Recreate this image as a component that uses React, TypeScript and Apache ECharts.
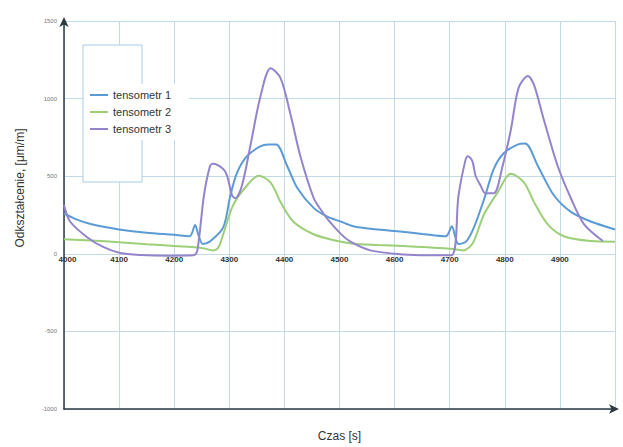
import React, { useEffect, useRef } from "react";
import * as echarts from "echarts";

const seriesNames = ["tensometr 1", "tensometr 2", "tensometr 3"];
const seriesColors = ["#5b9bd5", "#9ccf78", "#9484cc"];

const tensometr1: [number, number][] = [
  [4000, 260], [4020, 225], [4050, 190], [4100, 157], [4150, 135], [4200, 122],
  [4228, 113], [4238, 185], [4244, 120], [4252, 63], [4265, 80], [4289, 170],
  [4302, 377], [4314, 522], [4332, 629], [4356, 692], [4371, 704], [4385, 704],
  [4405, 566], [4424, 421], [4453, 296], [4478, 239], [4502, 208], [4525, 178],
  [4565, 158], [4605, 145], [4650, 128], [4693, 113], [4704, 178], [4710, 110],
  [4716, 63], [4730, 80], [4744, 170], [4763, 358], [4780, 547], [4798, 648],
  [4823, 704], [4837, 711], [4860, 566], [4889, 377], [4920, 270], [4956, 208],
  [5000, 157],
];

const tensometr2: [number, number][] = [
  [4000, 94], [4050, 85], [4100, 75], [4150, 62], [4200, 50], [4250, 38],
  [4271, 22], [4280, 40], [4289, 126], [4307, 314], [4332, 440], [4353, 503],
  [4375, 459], [4393, 333], [4416, 208], [4453, 126], [4496, 82], [4525, 65],
  [4570, 57], [4616, 50], [4660, 42], [4707, 31], [4725, 22], [4735, 40],
  [4744, 82], [4762, 252], [4787, 396], [4811, 516], [4835, 459], [4853, 333],
  [4878, 189], [4907, 113], [4956, 82], [5000, 78],
];

const tensometr3: [number, number][] = [
  [4000, 314], [4011, 208], [4042, 107], [4071, 44], [4102, 5], [4140, -8],
  [4190, -12], [4235, -10], [4242, 20], [4254, 377], [4265, 566], [4270, 580],
  [4289, 547], [4296, 503], [4305, 377], [4311, 358], [4323, 440], [4338, 692],
  [4356, 1006], [4375, 1195], [4393, 1132], [4411, 899], [4429, 629], [4453, 360],
  [4465, 290], [4478, 225], [4502, 130], [4520, 78], [4556, 22], [4616, -5],
  [4660, -10], [4703, -10], [4716, 377], [4729, 610], [4733, 629], [4741, 598],
  [4747, 503], [4756, 440], [4765, 390], [4780, 390], [4796, 566], [4811, 799],
  [4825, 1069], [4842, 1145], [4853, 1088], [4871, 862], [4896, 566], [4920, 358],
  [4944, 189], [4978, 82],
];

const seriesData = [tensometr1, tensometr2, tensometr3];

const xMin = 4000;
const xMax = 5000;
const xStep = 100;
const yMin = -1000;
const yMax = 1500;
const yStep = 500;

const xTitle = "Czas [s]";
const yTitle = "Odkształcenie, [μm/m]";

export default function App() {
  const ref = useRef<HTMLDivElement>(null);

  useEffect(() => {
    if (!ref.current) return;
    const chart = echarts.init(ref.current, undefined, { renderer: "svg" });
    const axisColor = "#2d3a42";
    const gridColor = "#c3d9e6";
    const gridTop = 21;
    const gridBottom = 29;
    const plotH = 447 - gridTop - gridBottom;
    // distance from bottom edge of the plot to the zero line
    const zeroOffset = -Math.round(((0 - yMin) / (yMax - yMin)) * plotH);
    chart.setOption({
      animation: false,
      backgroundColor: "#ffffff",
      textStyle: { fontFamily: "Liberation Sans, Arial, sans-serif" },
      grid: { left: 64, right: 8, top: gridTop, bottom: gridBottom },
      xAxis: [
        {
          type: "value",
          min: xMin,
          max: xMax,
          interval: xStep,
          position: "bottom",
          offset: zeroOffset,
          axisLine: { show: false, onZero: false },
          axisTick: { show: false },
          axisLabel: {
            fontSize: 8,
            fontWeight: "bold",
            color: "#333",
            margin: 5,
            showMaxLabel: false,
            formatter: (v: number) =>
              v === xMin ? "{first|" + v + "}" : String(v),
            rich: {
              first: {
                fontSize: 8,
                fontWeight: "bold",
                color: "#333",
                padding: [0, 0, 0, 7],
              },
            },
          },
          splitLine: { show: true, lineStyle: { color: gridColor, width: 1 } },
        },
        {
          type: "value",
          min: xMin,
          max: xMax,
          position: "bottom",
          axisLine: {
            show: true,
            onZero: false,
            symbol: ["none", "arrow"],
            symbolSize: [7, 10],
            symbolOffset: [0, 4],
            lineStyle: { color: axisColor, width: 1.5 },
          },
          axisTick: { show: false },
          axisLabel: { show: false },
          splitLine: { show: false },
          name: xTitle,
          nameLocation: "middle",
          nameGap: 21,
          nameTextStyle: { fontSize: 12, color: "#333" },
        },
      ],
      yAxis: {
        type: "value",
        min: yMin,
        max: yMax,
        interval: yStep,
        axisLine: {
          show: true,
          onZero: false,
          symbol: ["none", "arrow"],
          symbolSize: [7, 10],
          symbolOffset: [0, 4],
          lineStyle: { color: axisColor, width: 1.5 },
        },
        axisTick: { show: false },
        axisLabel: {
          fontSize: 6,
          color: "#777",
          margin: 7,
          formatter: (v: number) => String(v),
        },
        splitLine: { show: true, lineStyle: { color: gridColor, width: 1 } },
      },
      legend: {
        data: seriesNames,
        orient: "vertical",
        left: 86,
        top: 84,
        icon: "rect",
        itemWidth: 18,
        itemHeight: 2,
        itemGap: 3,
        padding: [4, 18, 4, 4],
        backgroundColor: "#ffffff",
        textStyle: { fontSize: 11, color: "#333", lineHeight: 14 },
        z: 10,
      },
      graphic: [
        {
          type: "rect",
          z: 5,
          shape: { x: 83, y: 45, width: 59, height: 137 },
          style: { fill: "#ffffff", stroke: "#a8cce8", lineWidth: 1 },
        },
        {
          type: "text",
          z: 5,
          x: 20,
          y: 188,
          rotation: Math.PI / 2,
          style: {
            text: yTitle,
            fontSize: 12,
            fill: "#333",
            align: "center",
            verticalAlign: "middle",
            fontFamily: "Liberation Sans, Arial, sans-serif",
          },
        },
      ],
      series: seriesData.map((d, i) => ({
        name: seriesNames[i],
        type: "line",
        xAxisIndex: 0,
        data: d,
        smooth: 0.3,
        showSymbol: false,
        symbol: "none",
        color: seriesColors[i],
        lineStyle: { color: seriesColors[i], width: 2 },
        z: 3,
      })),
    });
    return () => chart.dispose();
  }, []);

  return (
    <div
      ref={ref}
      style={{ position: "fixed", left: 0, top: 0, width: 623, height: 447 }}
    />
  );
}
